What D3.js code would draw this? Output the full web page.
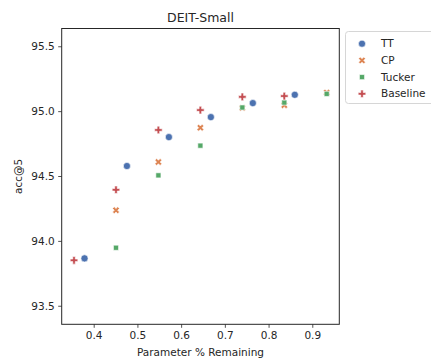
<!DOCTYPE html>
<html>
<head>
<meta charset="utf-8">
<script src="https://cdn.jsdelivr.net/npm/d3@7"></script>
<style>
  body { margin: 0; background: #fff; }
  svg { font-family: "DejaVu Sans", sans-serif; }
</style>
</head>
<body>
<div id="chart"></div>
<script>
// values
const series = ['TT', 'CP', 'Tucker', 'Baseline']
const ttX = [0.379, 0.476, 0.572, 0.668, 0.764, 0.860]
const ttY = [93.865, 94.577, 94.800, 94.954, 95.062, 95.126]
const cpX = [0.451, 0.548, 0.644, 0.740, 0.836, 0.933]
const cpY = [94.236, 94.608, 94.872, 95.025, 95.046, 95.143]
const tuckerX = [0.451, 0.548, 0.644, 0.740, 0.836, 0.933]
const tuckerY = [93.947, 94.505, 94.734, 95.028, 95.066, 95.133]
const baseX = [0.355, 0.451, 0.548, 0.644, 0.740, 0.836]
const baseY = [93.850, 94.394, 94.855, 95.008, 95.110, 95.116]
const xTicks = [0.4, 0.5, 0.6, 0.7, 0.8, 0.9]
const yTicks = [93.5, 94.0, 94.5, 95.0, 95.5]

const colors = { TT: '#4c72b0', CP: '#dd8452', Tucker: '#55a868', Baseline: '#c44e52' }

const width = 431
const height = 362
const margin = { left: 61.7, right: 91.7, top: 28.5, bottom: 37.7 }

const svg = d3.select('#chart').append('svg')
    .attr('width', width)
    .attr('height', height)

const xScale = d3.scaleLinear()
    .domain([0.3268, 0.9618])
    .range([margin.left, width - margin.right])

const yScale = d3.scaleLinear()
    .domain([93.357, 95.637])
    .range([height - margin.bottom, margin.top])

// x marker = rotated filled cross
const symbolXFilled = {
    draw(context, size) {
        const pts = []
        const r = Math.sqrt(size / 5) / 2
        const base = [[-3, -1], [-1, -1], [-1, -3], [1, -3], [1, -1], [3, -1], [3, 1], [1, 1], [1, 3], [-1, 3], [-1, 1], [-3, 1]]
        const c = Math.SQRT1_2
        base.forEach(([x, y]) => pts.push([(x - y) * c * r, (x + y) * c * r]))
        context.moveTo(pts[0][0], pts[0][1])
        pts.slice(1).forEach(p => context.lineTo(p[0], p[1]))
        context.closePath()
    }
}

const markerPath = {
    TT: d3.symbol().type(d3.symbolCircle).size(40)(),
    CP: d3.symbol().type(symbolXFilled).size(30)(),
    Tucker: d3.symbol().type(d3.symbolSquare).size(26)(),
    Baseline: d3.symbol().type(d3.symbolCross).size(32)()
}

const data = [
    { name: 'TT', xs: ttX, ys: ttY },
    { name: 'CP', xs: cpX, ys: cpY },
    { name: 'Tucker', xs: tuckerX, ys: tuckerY },
    { name: 'Baseline', xs: baseX, ys: baseY }
]

// axes
const xAxis = d3.axisBottom(xScale).tickValues(xTicks).tickFormat(d3.format('.1f')).tickSizeOuter(0).tickSize(3.5).tickPadding(3.5)
const yAxis = d3.axisLeft(yScale).tickValues(yTicks).tickFormat(d3.format('.1f')).tickSizeOuter(0).tickSize(3.5).tickPadding(3.5)

const gx = svg.append('g')
    .attr('transform', `translate(0, ${height - margin.bottom})`)
    .call(xAxis)
const gy = svg.append('g')
    .attr('transform', `translate(${margin.left}, 0)`)
    .call(yAxis)

svg.selectAll('.tick text').attr('font-size', 10.5).attr('fill', '#262626').attr('font-family', 'DejaVu Sans')
svg.selectAll('.tick line').attr('stroke', '#262626').attr('stroke-width', 0.8)
gx.select('.domain').remove()
gy.select('.domain').remove()

// frame
svg.append('rect')
    .attr('x', margin.left)
    .attr('y', margin.top)
    .attr('width', width - margin.right - margin.left)
    .attr('height', height - margin.bottom - margin.top)
    .attr('fill', 'none')
    .attr('stroke', '#262626')
    .attr('stroke-width', 1)

// points
data.forEach(s => {
    svg.append('g').selectAll('path')
        .data(s.xs.map((x, i) => ({ x: x, y: s.ys[i] })))
        .enter()
        .append('path')
        .attr('d', markerPath[s.name])
        .attr('transform', d => `translate(${xScale(d.x)}, ${yScale(d.y)})`)
        .attr('fill', colors[s.name])
        .attr('stroke', '#fff')
        .attr('stroke-width', 0.6)
})

// title and labels
svg.append('text')
    .text('DEIT-Small')
    .attr('x', (margin.left + width - margin.right) / 2)
    .attr('y', 22)
    .attr('text-anchor', 'middle')
    .attr('font-size', 12.5)
    .attr('fill', '#262626')

svg.append('text')
    .text('Parameter % Remaining')
    .attr('x', (margin.left + width - margin.right) / 2)
    .attr('y', 356)
    .attr('text-anchor', 'middle')
    .attr('font-size', 10.5)
    .attr('fill', '#262626')

svg.append('text')
    .text('acc@5')
    .attr('transform', `translate(22, ${(margin.top + height - margin.bottom) / 2}) rotate(-90)`)
    .attr('text-anchor', 'middle')
    .attr('font-size', 10.5)
    .attr('fill', '#262626')

// legend
const legend = svg.append('g').attr('transform', 'translate(345, 31)')
legend.append('rect')
    .attr('x', 0.5).attr('y', 0.5)
    .attr('width', 100).attr('height', 72)
    .attr('rx', 3)
    .attr('fill', '#fff')
    .attr('stroke', '#d6d6d6')
    .attr('stroke-width', 1)

series.forEach((name, i) => {
    const row = legend.append('g').attr('transform', `translate(0, ${12.7 + i * 16.7})`)
    row.append('path')
        .attr('d', markerPath[name])
        .attr('transform', 'translate(17, 0)')
        .attr('fill', colors[name])
        .attr('stroke', '#fff')
        .attr('stroke-width', 0.6)
    row.append('text')
        .text(name)
        .attr('x', 36)
        .attr('dy', '0.35em')
        .attr('font-size', 10.5)
        .attr('fill', '#262626')
})
</script>
</body>
</html>
